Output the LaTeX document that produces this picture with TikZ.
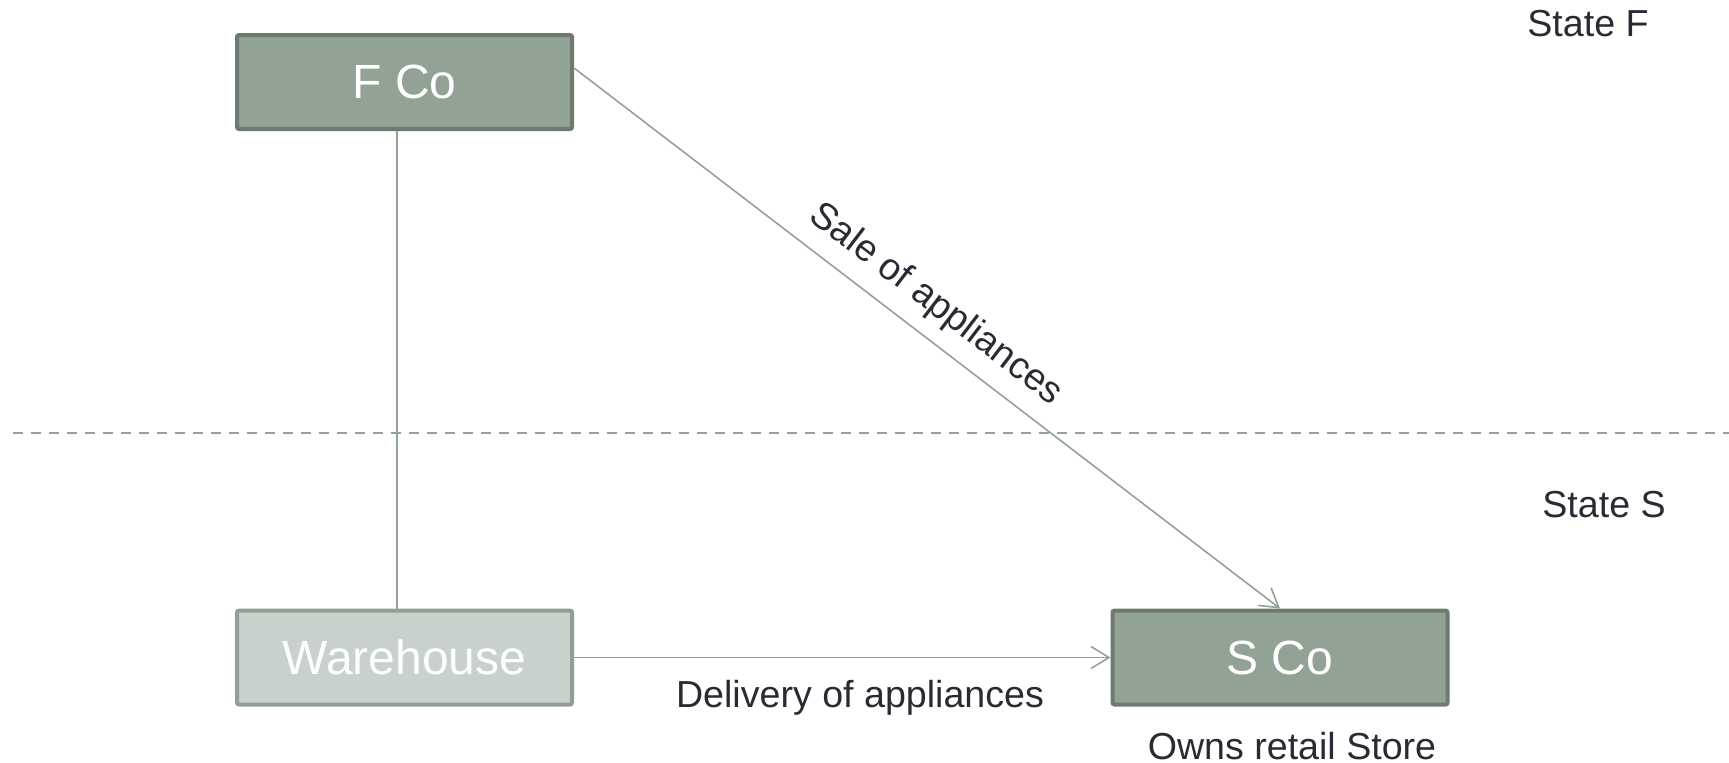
\documentclass[tikz,border=0pt]{standalone}
\usepackage{fontspec}
\setmainfont{Liberation Sans}
\usepackage{xcolor}
\usetikzlibrary{arrows.meta,positioning,calc}
\definecolor{boxfill}{HTML}{92A396}
\definecolor{boxline}{HTML}{6E7A70}
\definecolor{palefill}{HTML}{C8D1CC}
\definecolor{paleline}{HTML}{939D96}
\definecolor{linkcol}{HTML}{92A396}
\definecolor{textcol}{HTML}{2A2A35}
\tikzset{company/.style={draw=boxline, fill=boxfill, line width=2pt, rounded corners=1pt,
           minimum width=167.5pt, minimum height=47pt, text=white, font=\fontsize{24}{29}\selectfont},
         pale/.style={company, draw=paleline, fill=palefill},
         link/.style={draw=linkcol, line width=0.8pt},
         lbl/.style={text=textcol, font=\fontsize{18.8}{22}\selectfont}
        }

\begin{document}
\begin{tikzpicture}[x=0.5pt,y=-0.5pt]
\useasboundingbox (0,0) rectangle (1729,762);
%Boxes
\node[company] (fco) at (404.5,82) {F Co};
\node[pale] (wh) at (404.5,657.5) {Warehouse};
\node[company] (sco) at (1280,657.5) {S Co};

%State border
\coordinate (bl) at (13,433);
\coordinate (br) at (1729,433);
\draw[linkcol, line width=0.8pt, dash pattern=on 5pt off 4pt] (bl) -- (br);
\node[lbl] (sf) at (1588,24) {State F};
\node[lbl] (ss) at (1604,505) {State S};

%Links
\draw[link] ([xshift=-3.75pt]fco.south) -- ([xshift=-3.75pt]wh.north);
\draw[link, -{Straight Barb[length=9pt,width=11pt]}] ([yshift=7pt]fco.east) -- node[lbl, pos=0.485, sloped, above=3.5pt] {Sale of appliances} (sco.north);
\draw[link, -{Straight Barb[length=9pt,width=11pt]}] (wh.east) -- (sco.west);

\node[lbl] (del) at (860,698) {Delivery of appliances};
\node[lbl] (store) at (1292,746) {Owns retail Store};
\end{tikzpicture}
\end{document}
